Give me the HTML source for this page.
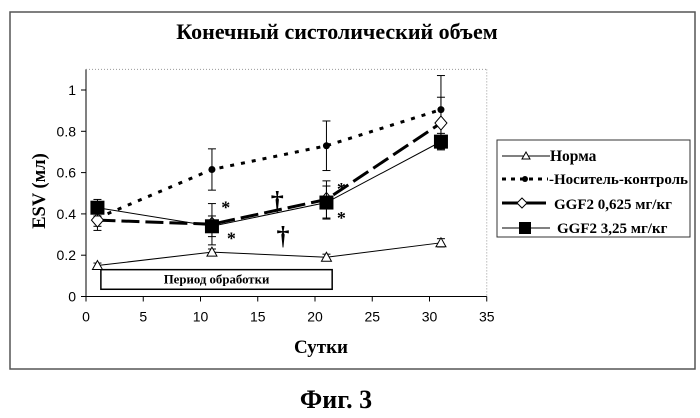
<!DOCTYPE html>
<html><head><meta charset="utf-8"><style>
body{margin:0;background:#fff;}
svg text{font-family:"Liberation Serif",serif;}
.tick{font-family:"Liberation Sans",sans-serif;font-size:14px;}
</style></head><body>
<svg width="700" height="413" viewBox="0 0 700 413">
<rect x="10" y="12" width="685" height="357" fill="#fff" stroke="#555" stroke-width="1.5"/>
<text x="337" y="39" text-anchor="middle" font-size="22" font-weight="bold">Конечный систолический объем</text>
<g id="plot"></g>
<text x="321" y="353" text-anchor="middle" font-size="19" font-weight="bold">Сутки</text>
<text transform="translate(45,191) rotate(-90)" text-anchor="middle" font-size="18.5" font-weight="bold">ESV (мл)</text>
<g>
<rect x="497" y="140" width="193" height="97" fill="#fff" stroke="#333" stroke-width="1"/>
<line x1="502" y1="156" x2="550" y2="156" stroke="#000" stroke-width="1"/>
<polygon points="526,152 522,159 530,159" fill="#fff" stroke="#000"/>
<text x="550" y="161" font-size="15.5" font-weight="bold">Норма</text>
<line x1="502" y1="179" x2="548" y2="179" stroke="#000" stroke-width="3" stroke-dasharray="4,5"/>
<circle cx="525" cy="179" r="3" fill="#000"/>
<text x="549" y="184" font-size="15" font-weight="bold" textLength="139" lengthAdjust="spacingAndGlyphs">-Носитель-контроль</text>
<line x1="502" y1="203" x2="546" y2="203" stroke="#000" stroke-width="3"/>
<polygon points="522,198 527,203 522,208 517,203" fill="#fff" stroke="#000"/>
<text x="554" y="209" font-size="15" font-weight="bold">GGF2 0,625 мг/кг</text>
<line x1="502" y1="228" x2="550" y2="228" stroke="#000" stroke-width="1"/>
<rect x="519" y="222" width="12" height="12" fill="#000"/>
<text x="557" y="233" font-size="15" font-weight="bold">GGF2 3,25 мг/кг</text>
</g>
<text x="336" y="408" text-anchor="middle" font-size="26" font-weight="bold">Фиг. 3</text>
</svg>
<script>
const days=[1,11,21,31];
const xTicks=[0,5,10,15,20,25,30,35];
const yTicks=[0,0.2,0.4,0.6,0.8,1];
const yTickLabels=["0","0.2","0.4","0.6","0.8","1"];
const norma=[0.15,0.215,0.19,0.26];
const normaErr=[0.012,0.015,0.015,0.02];
const control=[0.38,0.615,0.73,0.905];
const controlErr=[0.04,0.1,0.12,0.165];
const ggfLow=[0.37,0.35,0.47,0.84];
const ggfLowErr=[0.05,0.1,0.09,0.125];
const ggfHigh=[0.43,0.34,0.455,0.75];
const ggfHighErr=[0.04,0.05,0.08,0.04];
const ns="http://www.w3.org/2000/svg";
const X=v=>86+v*11.45, Y=v=>296.5-v*206.5;
const g=document.getElementById('plot');
function mk(t,a,p){const e=document.createElementNS(ns,t);for(const k in a)e.setAttribute(k,a[k]);(p||g).appendChild(e);return e;}
let ax=mk('line',{x1:X(0),y1:Y(0),x2:X(35),y2:Y(0),stroke:'#000'});


let ay=mk('line',{x1:X(0),y1:Y(1.1),x2:X(0),y2:Y(0),stroke:'#000'});


mk('line',{x1:X(0),y1:Y(1.1),x2:X(35),y2:Y(1.1),stroke:'#999','stroke-dasharray':'1,2'});
mk('line',{x1:X(35),y1:Y(1.1),x2:X(35),y2:Y(0),stroke:'#999','stroke-dasharray':'1,2'});
xTicks.forEach(t=>{mk('line',{x1:X(t),y1:Y(0),x2:X(t),y2:Y(0)+5,stroke:'#000'});
let tx=mk('text',{x:X(t),y:Y(0)+25,'text-anchor':'middle',class:'tick'});tx.textContent=t;

});
yTicks.forEach((t,i)=>{mk('line',{x1:X(0)-5,y1:Y(t),x2:X(0),y2:Y(t),stroke:'#000'});
let tx=mk('text',{x:X(0)-10,y:Y(t)+5,'text-anchor':'end',class:'tick'});tx.textContent=yTickLabels[i];

});
let bar=mk('rect',{x:X(1.3),y:Y(0.13),width:X(21.5)-X(1.3),height:Y(0.035)-Y(0.13),fill:'#fff',stroke:'#000','stroke-width':1.5});


let bt=mk('text',{x:(X(1.3)+X(21.5))/2,y:Y(0.082)+4,'text-anchor':'middle','font-size':12.8,'font-weight':'bold'});bt.textContent='Период обработки';


function series(name,vals,errs,style,marker){
 const s=mk('g',{});
 
 
 vals.forEach((v,i)=>{const x=X(days[i]);mk('line',{x1:x,y1:Y(v+errs[i]),x2:x,y2:Y(v-errs[i]),stroke:'#000'},s);
 [v+errs[i],v-errs[i]].forEach(e=>mk('line',{x1:x-4,y1:Y(e),x2:x+4,y2:Y(e),stroke:'#000'},s));});
 mk('polyline',Object.assign({points:vals.map((v,i)=>X(days[i])+','+Y(v)).join(' '),fill:'none',stroke:'#000'},style),s);
 vals.forEach((v,i)=>marker(X(days[i]),Y(v),s));
}
series('series-norma',norma,normaErr,{'stroke-width':1},(x,y,s)=>mk('polygon',{points:`${x},${y-5} ${x-5},${y+4} ${x+5},${y+4}`,fill:'#fff',stroke:'#000'},s));
series('series-control',control,controlErr,{'stroke-width':3,'stroke-dasharray':'4,7'},(x,y,s)=>mk('circle',{cx:x,cy:y,r:3.5,fill:'#000'},s));
series('series-ggf2-0625',ggfLow,ggfLowErr,{'stroke-width':3,'stroke-dasharray':'18,6'},(x,y,s)=>mk('polygon',{points:`${x},${y-7} ${x+6},${y} ${x},${y+7} ${x-6},${y}`,fill:'#fff',stroke:'#000'},s));
series('series-ggf2-325',ggfHigh,ggfHighErr,{'stroke-width':1},(x,y,s)=>mk('rect',{x:x-7,y:y-7,width:14,height:14,fill:'#000'},s));
[['*',12.2,0.44],['*',12.7,0.29],['*',22.3,0.53],['*',22.3,0.39]].forEach(a=>{let t=mk('text',{x:X(a[1]),y:Y(a[2])+8,'font-size':18,'font-weight':'bold','text-anchor':'middle'});t.textContent=a[0];

});
[[16.7,0.47],[17.2,0.3]].forEach(a=>{let t=mk('text',{x:X(a[0]),y:Y(a[1])+10,'font-size':26,'font-weight':'bold','text-anchor':'middle'});t.textContent='†';

});
</script>
</body></html>
